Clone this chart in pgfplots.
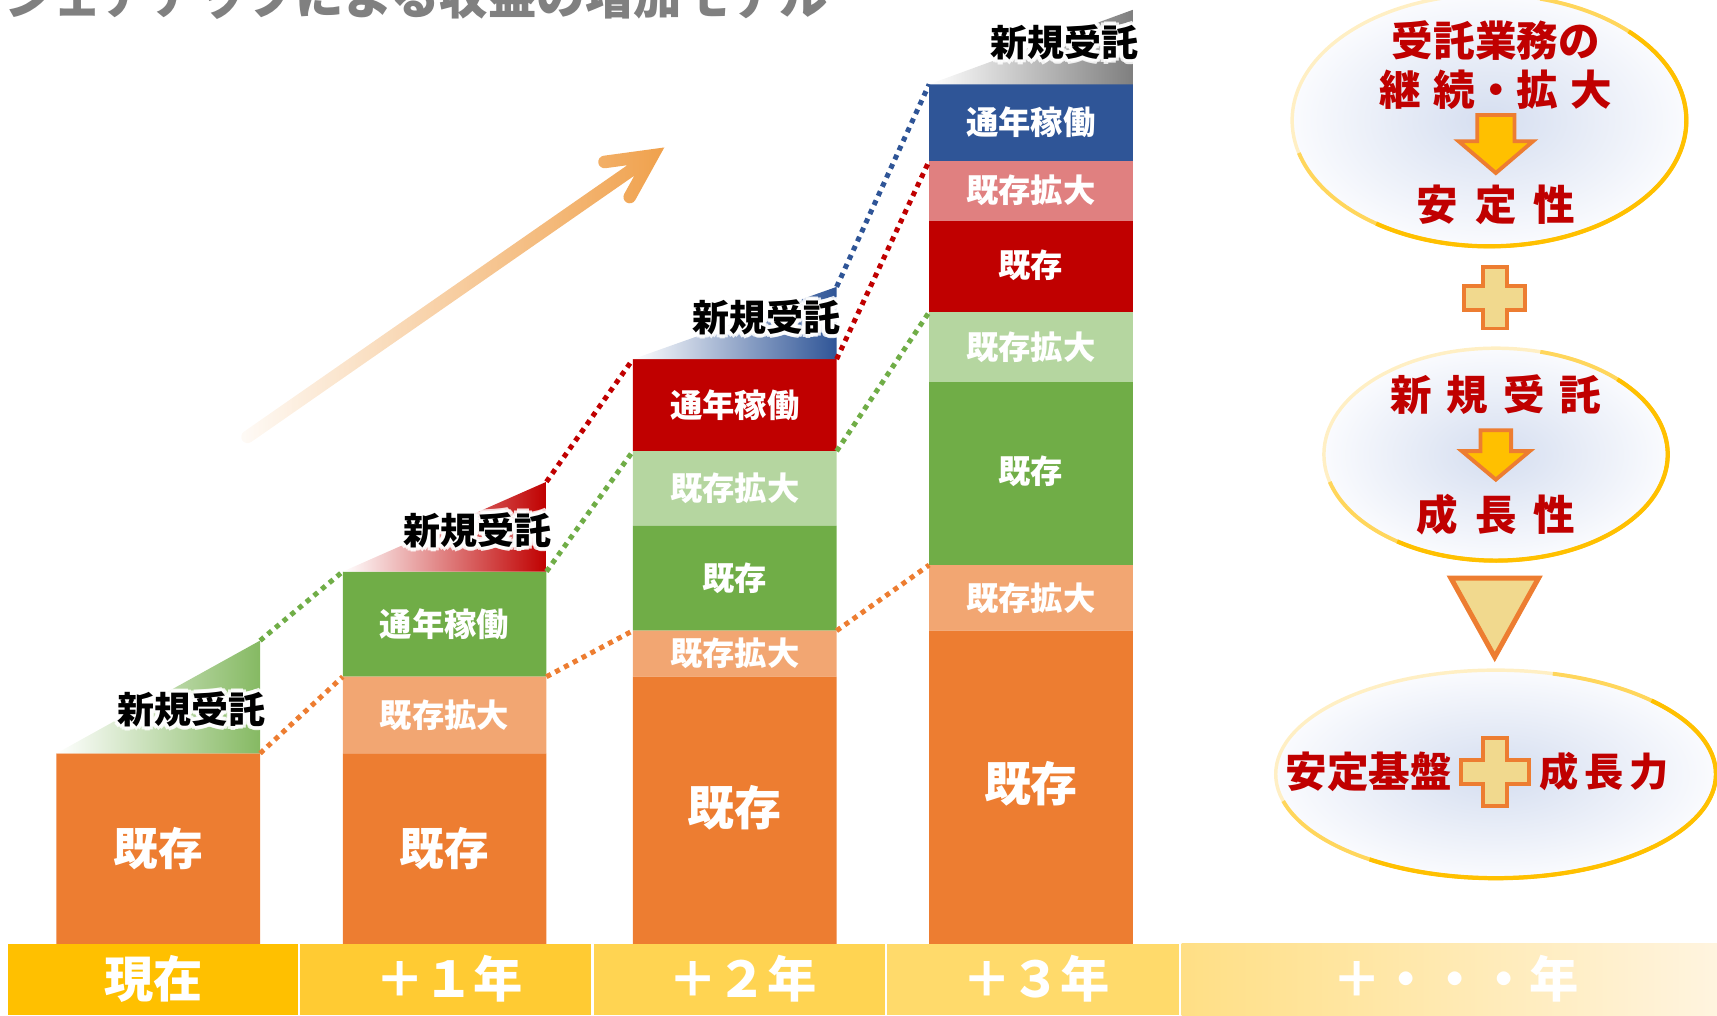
\documentclass[border=0pt]{standalone}
\usepackage{fontspec}
\setmainfont{Noto Sans CJK JP}
\usepackage{pgfplots}
\usepackage{pgfplotstable}
\pgfplotsset{compat=1.18}
\usetikzlibrary{fadings}
\definecolor{cOr}{HTML}{ED7D31}
\definecolor{cOrL}{HTML}{F2A672}
\definecolor{cGr}{HTML}{70AD47}
\definecolor{cGrL}{HTML}{B5D6A0}
\definecolor{cRd}{HTML}{C00000}
\definecolor{cPk}{HTML}{E08080}
\definecolor{cBl}{HTML}{2F5597}
\definecolor{cGy}{HTML}{7F7F7F}
\definecolor{cArrow}{HTML}{F0A24E}
\definecolor{cGold}{HTML}{FFC000}
\definecolor{cGoldM}{HTML}{FFD65C}
\definecolor{cGoldL}{HTML}{FFEFC4}
\definecolor{cSym}{HTML}{F1D98E}
\definecolor{cEin}{HTML}{D5DEF0}
\definecolor{cEout}{HTML}{FAFBFE}
\definecolor{cB1}{HTML}{FFC000}
\definecolor{cB2}{HTML}{FFCB33}
\definecolor{cB3}{HTML}{FFD452}
\definecolor{cB4}{HTML}{FFDA6B}
\definecolor{cB5a}{HTML}{FFDF85}
\definecolor{cB5b}{HTML}{FFF4DF}
\definecolor{cTitle}{HTML}{808080}
\tikzfading[name=arrowfade, left color=transparent!95, right color=transparent!0]

\pgfplotstableread{
x     ex   exk  gr   grl  rd   pk   bl
144.5 174  0    0    0    0    0    0
406   174  70   96   0    0    0    0
671   244  42   96   68   84   0    0
941.5 286  60   167  64   83   55   70
}\bars

\pgfplotsset{base/.style={scale only axis, width=15.68cm, height=9.27cm,
  xmin=0, xmax=1568, ymin=-65, ymax=862, hide axis, clip=false}}

\newcommand\fs[1]{\fontsize{#1}{#1}\selectfont\bfseries}
\newcommand\wl[4]{\node[text=white, font=\fs{#3}] at (axis cs:#1,#2) {#4};}
\newcommand\glow[3]{%
  \node[text=white, opacity=0.85, font=\fs{9.6}] at ([shift={(1.1pt,0pt)}]axis cs:#1,#2) {#3};
  \node[text=white, opacity=0.85, font=\fs{9.6}] at ([shift={(-1.1pt,0pt)}]axis cs:#1,#2) {#3};
  \node[text=white, opacity=0.85, font=\fs{9.6}] at ([shift={(0pt,1.1pt)}]axis cs:#1,#2) {#3};
  \node[text=white, opacity=0.85, font=\fs{9.6}] at ([shift={(0pt,-1.1pt)}]axis cs:#1,#2) {#3};
  \node[text=white, opacity=0.85, font=\fs{9.6}] at ([shift={(0.8pt,0.8pt)}]axis cs:#1,#2) {#3};
  \node[text=white, opacity=0.85, font=\fs{9.6}] at ([shift={(-0.8pt,0.8pt)}]axis cs:#1,#2) {#3};
  \node[text=white, opacity=0.85, font=\fs{9.6}] at ([shift={(0.8pt,-0.8pt)}]axis cs:#1,#2) {#3};
  \node[text=white, opacity=0.85, font=\fs{9.6}] at ([shift={(-0.8pt,-0.8pt)}]axis cs:#1,#2) {#3};
  \node[text=black, font=\fs{9.6}] at (axis cs:#1,#2) {#3};}
% down block arrow: cx, top, headtop, tip, shaft half, head half
\newcommand\darrow[6]{%
  \filldraw[fill=cGold, draw=cOr, line width=1pt, line join=miter]
    (axis cs:#1-#5,#2) -- (axis cs:#1+#5,#2) -- (axis cs:#1+#5,#3) -- (axis cs:#1+#6,#3)
    -- (axis cs:#1,#4) -- (axis cs:#1-#6,#3) -- (axis cs:#1-#5,#3) -- cycle;}
% plus sign: cx, cy, half size, half arm
\newcommand\plussign[4]{%
  \filldraw[fill=cSym, draw=cOr, line width=1pt]
    (axis cs:#1-#4,#2+#3) -- (axis cs:#1+#4,#2+#3) -- (axis cs:#1+#4,#2+#4) -- (axis cs:#1+#3,#2+#4)
    -- (axis cs:#1+#3,#2-#4) -- (axis cs:#1+#4,#2-#4) -- (axis cs:#1+#4,#2-#3) -- (axis cs:#1-#4,#2-#3)
    -- (axis cs:#1-#4,#2-#4) -- (axis cs:#1-#3,#2-#4) -- (axis cs:#1-#3,#2+#4) -- (axis cs:#1-#4,#2+#4) -- cycle;}
% oval: cx, cy, rx, ry (axis units = 0.1 mm)
\newcommand\myoval[4]{%
  \fill[inner color=cEin, outer color=cEout] (axis cs:#1,#2) ellipse [x radius=#3, y radius=#4];
  \draw[cGoldL, line width=0.9pt] (axis cs:#1,#2) ellipse [x radius=#3, y radius=#4];
  \draw[cGoldM, line width=1.0pt] (axis cs:{#1+#3*cos(75)},{#2+#4*sin(75)})
     arc[start angle=75, end angle=-165, x radius=#3*0.1mm, y radius=#4*0.1mm];
  \draw[cGold, line width=1.1pt] (axis cs:{#1+#3*cos(45)},{#2+#4*sin(45)})
     arc[start angle=45, end angle=-125, x radius=#3*0.1mm, y radius=#4*0.1mm];}

\begin{document}
\begin{tikzpicture}
% ---- stacked bars ----
\begin{axis}[base, ybar stacked, bar width=186]
\addplot[fill=cOr, draw=none]  table[x=x, y=ex]  {\bars};
\addplot[fill=cOrL, draw=none] table[x=x, y=exk] {\bars};
\addplot[fill=cGr, draw=none]  table[x=x, y=gr]  {\bars};
\addplot[fill=cGrL, draw=none] table[x=x, y=grl] {\bars};
\addplot[fill=cRd, draw=none]  table[x=x, y=rd]  {\bars};
\addplot[fill=cPk, draw=none]  table[x=x, y=pk]  {\bars};
\addplot[fill=cBl, draw=none]  table[x=x, y=bl]  {\bars};
\end{axis}
% ---- everything else ----
\begin{axis}[base]
% title (cut at top)
\node[anchor=west, text=cTitle, font=\fs{12.6}] at (axis cs:-8,866) {シェアアップによる収益の増加モデル};
% 新規受託 wedges
\addplot[draw=none, left color=white, middle color=cGr, right color=cGr!85!white] coordinates {(51.5,174) (237.5,174) (237.5,277)} -- cycle;
\addplot[draw=none, left color=white, middle color=cRd, right color=cRd] coordinates {(313,340) (499,340) (499,422)} -- cycle;
\addplot[draw=none, left color=white, middle color=cBl!85!white, right color=cBl] coordinates {(578,534) (764,534) (764,600)} -- cycle;
\addplot[draw=none, left color=white, middle color=cGy!75!white, right color=cGy] coordinates {(848.5,785) (1034.5,785) (1034.5,853)} -- cycle;
% dotted connectors
\pgfplotsset{dots/.style={line width=1.3pt, dash pattern=on 1.3pt off 1.3pt}}
\addplot[dots, cOr] coordinates {(237.5,174) (313,244)};
\addplot[dots, cOr] coordinates {(499,244) (578,286)};
\addplot[dots, cOr] coordinates {(764,286) (848.5,346)};
\addplot[dots, cGr] coordinates {(237.5,277) (313,340)};
\addplot[dots, cGr] coordinates {(499,340) (578,450)};
\addplot[dots, cGr] coordinates {(764,450) (848.5,577)};
\addplot[dots, cRd] coordinates {(499,422) (578,534)};
\addplot[dots, cRd] coordinates {(764,534) (848.5,715)};
\addplot[dots, cBl] coordinates {(764,600) (848.5,785)};
% segment labels
\wl{144.5}{87}{11.6}{既存}
\wl{406}{87}{11.6}{既存}
\wl{406}{209}{8.4}{既存拡大}
\wl{406}{292}{8.4}{通年稼働}
\wl{671}{124}{12.2}{既存}
\wl{671}{265}{8.4}{既存拡大}
\wl{671}{334}{8.4}{既存}
\wl{671}{416}{8.4}{既存拡大}
\wl{671}{492}{8.4}{通年稼働}
\wl{941.5}{146}{12.2}{既存}
\wl{941.5}{316}{8.4}{既存拡大}
\wl{941.5}{432}{8.4}{既存}
\wl{941.5}{545}{8.4}{既存拡大}
\wl{941.5}{620}{8.4}{既存}
\wl{941.5}{688}{8.4}{既存拡大}
\wl{941.5}{750}{8.4}{通年稼働}
\glow{175}{214}{新規受託}
\glow{436}{378}{新規受託}
\glow{700}{572}{新規受託}
\glow{972}{823}{新規受託}
% growth arrow
\draw[cArrow, line width=1.15mm, line cap=round, line join=miter, path fading=arrowfade]
  (axis cs:226,463) -- (axis cs:590,716) (axis cs:552,714) -- (axis cs:596,720) -- (axis cs:575,682);
% bottom band
\fill[cB1] (axis cs:7,0) rectangle (axis cs:272,-65);
\fill[cB2] (axis cs:274,0) rectangle (axis cs:540,-65);
\fill[cB3] (axis cs:542,0) rectangle (axis cs:808,-65);
\fill[cB4] (axis cs:810,0) rectangle (axis cs:1077,-65);
\fill[left color=cB5a, right color=cB5b] (axis cs:1079,0) rectangle (axis cs:1568,-65);
\wl{140}{-32}{12.8}{現在}
\wl{410}{-32}{12.8}{＋１年}
\wl{678}{-32}{12.8}{＋２年}
\wl{946}{-32}{12.8}{＋３年}
\wl{1329}{-32}{12.8}{＋・・・年}
% right panel
\myoval{1360}{752}{180}{115}
\myoval{1366}{447}{157}{97}
\myoval{1366}{155}{201}{95}
\node[text=cRd, font=\fs{10.8}] at (axis cs:1366,825) {受託業務の};
\node[text=cRd, font=\fs{10.8}] at (axis cs:1366,780) {継\hspace{0.3em}続・拡\hspace{0.3em}大};
\darrow{1366}{757}{733}{704}{17}{34}
\node[text=cRd, font=\fs{10.8}] at (axis cs:1366,675) {安\hspace{0.4em}定\hspace{0.4em}性};
\plussign{1365}{590}{28}{11}
\node[text=cRd, font=\fs{10.8}] at (axis cs:1366,502) {新\hspace{0.35em}規\hspace{0.35em}受\hspace{0.35em}託};
\darrow{1366}{469}{450}{424}{14}{31}
\node[text=cRd, font=\fs{10.8}] at (axis cs:1366,392) {成\hspace{0.4em}長\hspace{0.4em}性};
\filldraw[fill=cSym, draw=cOr, line width=1.3pt] (axis cs:1325,334) -- (axis cs:1405,334) -- (axis cs:1365,262) -- cycle;
\node[text=cRd, font=\fs{10.8}] at (axis cs:1250,157) {安定基盤};
\plussign{1365}{157}{31}{11}
\node[text=cRd, font=\fs{10.2}] at (axis cs:1465,157) {成\hspace{0.15em}長\hspace{0.15em}力};
\end{axis}
\pgfresetboundingbox
\useasboundingbox (0,0) rectangle (15.68cm,9.27cm);
\end{tikzpicture}
\end{document}
